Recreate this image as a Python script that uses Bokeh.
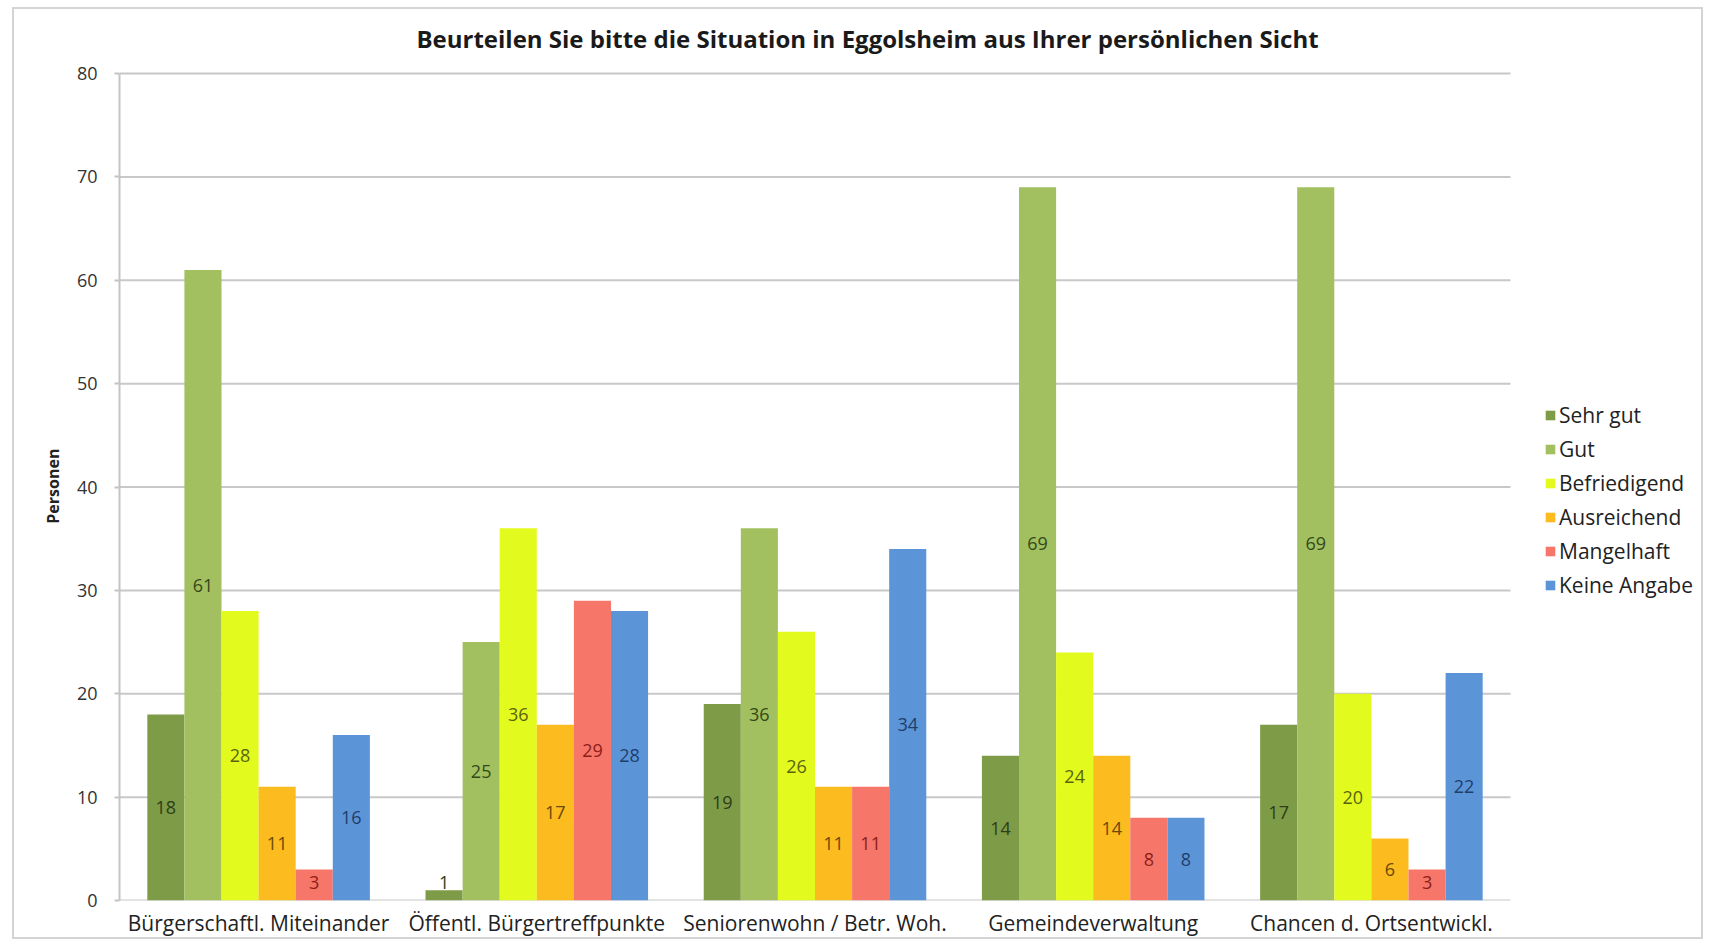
from bokeh.plotting import figure
from bokeh.models import (ColumnDataSource, Range1d, FixedTicker,
                          Legend, LegendItem, LabelSet, Label)
from bokeh.core.properties import value
from bokeh.embed import file_html
from bokeh.resources import INLINE

title = "Beurteilen Sie bitte die Situation in Eggolsheim aus Ihrer persönlichen Sicht"
y_label = "Personen"
categories = ["Bürgerschaftl. Miteinander", "Öffentl. Bürgertreffpunkte",
              "Seniorenwohn / Betr. Woh.", "Gemeindeverwaltung",
              "Chancen d. Ortsentwickl."]
series = ["Sehr gut", "Gut", "Befriedigend", "Ausreichend", "Mangelhaft", "Keine Angabe"]

sehr_gut = [18, 1, 19, 14, 17]
gut = [61, 25, 36, 69, 69]
befriedigend = [28, 36, 26, 24, 20]
ausreichend = [11, 17, 11, 14, 6]
mangelhaft = [3, 29, 11, 8, 3]
keine_angabe = [16, 28, 34, 8, 22]

y_ticks = [0, 10, 20, 30, 40, 50, 60, 70, 80]

values = [sehr_gut, gut, befriedigend, ausreichend, mangelhaft, keine_angabe]

bar_colors = ["#7E9C48", "#A2C060", "#E3FA1E", "#FCBB1F", "#F7766A", "#5C95D7"]
label_colors = ["#2F3D16", "#34491A", "#5A6410", "#6A4A08", "#8E1E18", "#1E3E6C"]

FONT = "Open Sans"

# canvas geometry (pixels): the plotting frame reaches the top and right
# edges of the canvas so that title and legend can live inside it
FIG_W, FIG_H = 1691, 932
LEFT, BOTTOM = 105, 41
CAT_AREA_W = 1391          # width covered by the five category groups
TOP_LINE_Y = 64            # canvas y of the highest gridline
TITLE_Y = 29               # canvas y of the title's centre
TITLE_X = 748              # title centre, measured from the frame's left edge

n = len(categories)
y_max = y_ticks[-1]
frame_h = FIG_H - BOTTOM
px_per_unit = (frame_h - TOP_LINE_Y) / y_max
x_end = n * (FIG_W - LEFT) / CAT_AREA_W
y_end = frame_h / px_per_unit
centers = [i + 0.5 for i in range(n)]

p = figure(x_range=Range1d(0, x_end), y_range=Range1d(0, y_end),
           width=FIG_W, height=FIG_H,
           output_backend="svg", toolbar_location=None, title_location=None,
           min_border_left=LEFT, min_border_right=0,
           min_border_top=0, min_border_bottom=BOTTOM,
           margin=(7, 0, 0, 12),
           styles={"border": "2px solid #d4d4d4"})

p.outline_line_color = None
p.background_fill_color = "white"
p.border_fill_color = "white"

# horizontal gridlines over the category area only
p.segment(x0=[0] * len(y_ticks), x1=[n] * len(y_ticks), y0=y_ticks, y1=y_ticks,
          line_color="#c8c8c8", line_width=2)

p.add_layout(Label(x=TITLE_X * n / CAT_AREA_W,
                   y=y_max + (TOP_LINE_Y - TITLE_Y) / px_per_unit,
                   text=title, text_align="center", text_baseline="middle",
                   text_font=FONT, text_font_style="bold",
                   text_font_size="24px", text_color="#1a1a1a"))

width = 0.8 / len(series)
legend_items = []
for i, (name, vals) in enumerate(zip(series, values)):
    off = (i - (len(series) - 1) / 2) * width
    src = ColumnDataSource(dict(
        x=[c + off for c in centers],
        v=vals,
        ly=[max(v / 2, 1.7) for v in vals],
        txt=[str(v) for v in vals],
    ))
    r = p.vbar(x="x", top="v", bottom=0, width=width, source=src,
               fill_color=bar_colors[i], line_color=None)
    legend_items.append(LegendItem(label=name, renderers=[r]))
    p.add_layout(LabelSet(x="x", y="ly", text="txt", source=src,
                          text_align="center", text_baseline="middle",
                          text_font=value(FONT), text_font_size=value("18px"),
                          text_color=label_colors[i]))

# y axis, ruled only over the value scale; the axis title is centred on the
# whole frame, so non-breaking spaces after it move the word down to the
# middle of the value scale
p.yaxis.bounds = (0, y_max)
p.yaxis.ticker = FixedTicker(ticks=y_ticks)
p.yaxis.axis_label = y_label + "\u00a0" * 15
p.yaxis.axis_label_text_font = FONT
p.yaxis.axis_label_text_font_style = "bold"
p.yaxis.axis_label_text_font_size = "16px"
p.yaxis.axis_label_text_color = "#222222"
p.yaxis.axis_label_standoff = 10
p.yaxis.major_label_text_font = FONT
p.yaxis.major_label_text_font_size = "18px"
p.yaxis.major_label_text_color = "#333333"
p.yaxis.major_label_standoff = 17
p.yaxis.axis_line_color = "#c4c4c4"
p.yaxis.axis_line_width = 2
p.yaxis.major_tick_line_color = "#c4c4c4"
p.yaxis.major_tick_line_width = 2
p.yaxis.major_tick_out = 5
p.yaxis.major_tick_in = 0
p.yaxis.minor_tick_line_color = None

# x axis: category names at the group centres
p.xaxis.ticker = FixedTicker(ticks=centers)
p.xaxis.major_label_overrides = {c: name for c, name in zip(centers, categories)}
p.xaxis.major_label_text_font = FONT
p.xaxis.major_label_text_font_size = "21px"
p.xaxis.major_label_text_color = "#222222"
p.xaxis.major_label_standoff = 8
p.xaxis.axis_line_color = None
p.xaxis.major_tick_line_color = None
p.xaxis.major_tick_out = 0
p.xaxis.major_tick_in = 0
p.xaxis.minor_tick_line_color = None
p.xaxis.minor_tick_out = 0

p.xgrid.grid_line_color = None
p.ygrid.grid_line_color = None

legend = Legend(items=legend_items, location=(1425, 301),
                label_text_font=FONT, label_text_font_size="21px",
                label_text_color="#222222", label_height=20,
                glyph_width=12, glyph_height=12, label_standoff=3,
                spacing=6, padding=4, margin=0,
                border_line_color=None, background_fill_alpha=0)
p.add_layout(legend)

open("out.html", "w").write(file_html(p, INLINE))
